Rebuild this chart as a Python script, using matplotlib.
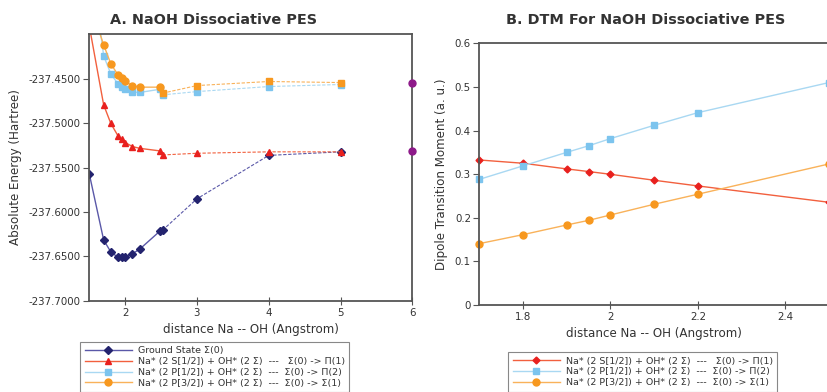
import matplotlib
matplotlib.use("Agg")
import matplotlib.pyplot as plt
from matplotlib.ticker import FuncFormatter

# ---- data: panel A (absolute energy, Hartree) ----
dist_short = [1.5, 1.7, 1.8, 1.9, 1.95, 2.0, 2.1, 2.2, 2.49]
dist_long = [2.52, 3, 4, 5]

ground_short = [-237.557, -237.6315, -237.645, -237.651, -237.651, -237.651,
                -237.647, -237.642, -237.621]
ground_long = [-237.6205, -237.585, -237.536, -237.532]

s12_short = [-237.390, -237.479, -237.500, -237.514, -237.518, -237.5215,
             -237.526, -237.528, -237.531]
s12_long = [-237.5355, -237.5336, -237.532, -237.532]

p12_short = [-237.300, -237.4236, -237.444, -237.4553, -237.4583, -237.4613,
             -237.4647, -237.465, -237.4613]
p12_long = [-237.4677, -237.464, -237.4583, -237.456]

p32_short = [-237.363, -237.4112, -237.4327, -237.4451, -237.4489, -237.4526,
             -237.4572, -237.459, -237.459]
p32_long = [-237.4658, -237.4572, -237.4526, -237.4538]

limit_dist = [6, 6]
limit_energy = [-237.4545, -237.5313]

# ---- data: panel B (dipole transition moment, a.u.) ----
dtm_dist = [1.7, 1.8, 1.9, 1.95, 2.0, 2.1, 2.2, 2.5]
dtm_s12 = [0.3325, 0.325, 0.312, 0.306, 0.2997, 0.286, 0.273, 0.2355]
dtm_p12 = [0.288, 0.319, 0.350, 0.365, 0.3815, 0.412, 0.441, 0.510]
dtm_p32 = [0.1407, 0.1613, 0.1835, 0.194, 0.2064, 0.231, 0.254, 0.3234]

labels = [
    "Ground State \u03a3(0)",
    "Na* (2 S[1/2]) + OH* (2 \u03a3)  ---   \u03a3(0) -> \u03a0(1)",
    "Na* (2 P[1/2]) + OH* (2 \u03a3)  ---  \u03a3(0) -> \u03a0(2)",
    "Na* (2 P[3/2]) + OH* (2 \u03a3)  ---  \u03a3(0) -> \u03a3(1)",
]

# (line colour, marker colour, marker)
navy = ("#5a58a8", "#23236e", "D")
red = ("#f2603e", "#e8201e", "^")
blue = ("#a9d8f2", "#7cc4ee", "s")
orange = ("#f9b25a", "#f7981f", "o")

text_col = "#333333"
plt.rcParams["font.family"] = "DejaVu Sans"
plt.rcParams["text.color"] = text_col
plt.rcParams["axes.labelcolor"] = text_col
plt.rcParams["xtick.color"] = "#555555"
plt.rcParams["ytick.color"] = "#555555"
plt.rcParams["xtick.labelcolor"] = text_col
plt.rcParams["ytick.labelcolor"] = text_col

fig = plt.figure(figsize=(8.27, 3.92), dpi=100)
W, H = 827.0, 392.0

ax1 = fig.add_axes([89.3 / W, 1 - 300.7 / H, (412.3 - 89.3) / W, (300.7 - 34) / H])
ax2 = fig.add_axes([479.3 / W, 1 - 305 / H, (829 - 479.3) / W, (305 - 43.3) / H])


def style_axes(ax):
    for sp in ax.spines.values():
        sp.set_color("#555555")
        sp.set_linewidth(1.3)
    ax.tick_params(axis="y", direction="out", length=4, width=0.8, labelsize=7.4, pad=2)
    ax.tick_params(axis="x", direction="inout", length=6, width=0.8, labelsize=7.4, pad=2)


def series(ax, x, y, style, ls="-", lw=1.0, ms=4.5, marker=None):
    lc, mc, mk = style
    return ax.plot(x, y, linestyle=ls, color=lc, linewidth=lw,
                   marker=marker or mk, markersize=ms,
                   markerfacecolor=mc, markeredgecolor=mc)[0]


dash = (0, (3, 1.5))

h_g = series(ax1, dist_short, ground_short, navy, ms=4)
series(ax1, dist_long, ground_long, navy, ls=dash, lw=0.8, ms=4)
h_s = series(ax1, dist_short, s12_short, red, ms=5)
series(ax1, dist_long, s12_long, red, ls=dash, lw=0.8, ms=5)
h_p1 = series(ax1, dist_short, p12_short, blue, ms=4.5)
series(ax1, dist_long, p12_long, blue, ls=dash, lw=0.8, ms=4.5)
h_p3 = series(ax1, dist_short, p32_short, orange, ms=5)
series(ax1, dist_long, p32_long, orange, ls=dash, lw=0.8, ms=5, marker="s")
ax1.plot(limit_dist, limit_energy, linestyle="none", marker="o", markersize=5,
         color="#8e1a8a", clip_on=False, zorder=5)

ax1.set_xlim(1.5, 6)
ax1.set_ylim(-237.70, -237.399)
ax1.set_xticks([2, 3, 4, 5, 6])
ax1.set_yticks([-237.70, -237.65, -237.60, -237.55, -237.50, -237.45])
ax1.yaxis.set_major_formatter(FuncFormatter(lambda v, p: f"{v:.4f}"))
ax1.xaxis.set_major_formatter(FuncFormatter(lambda v, p: f"{v:g}"))
style_axes(ax1)
ax1.set_xlabel("distance Na -- OH (Angstrom)", fontsize=8.6)
ax1.set_ylabel("Absolute Energy (Hartree)", fontsize=8.6, labelpad=5)
fig.text(213 / W, 1 - 20 / H, "A. NaOH Dissociative PES", ha="center",
         va="center", fontsize=10.4, fontweight="bold")

leg1 = fig.legend([h_g, h_s, h_p1, h_p3], labels, loc="upper left",
                  bbox_to_anchor=(80 / W, 1 - 341.7 / H), borderaxespad=0,
                  fontsize=6.8, fancybox=False, edgecolor="#888888",
                  framealpha=1, labelspacing=0.18, handlelength=5,
                  borderpad=0.5, handletextpad=0.6)
leg1.get_frame().set_linewidth(0.8)

g2 = [series(ax2, dtm_dist, dtm_s12, (red[0], red[1], "D"), ms=3.5),
      series(ax2, dtm_dist, dtm_p12, blue, ms=4.5),
      series(ax2, dtm_dist, dtm_p32, orange, ms=5)]
for ln in g2:
    ln.set_clip_on(False)

ax2.set_xlim(1.7, 2.5)
ax2.set_ylim(0, 0.6)
ax2.set_xticks([1.8, 2.0, 2.2, 2.4])
ax2.set_yticks([0, 0.1, 0.2, 0.3, 0.4, 0.5, 0.6])
ax2.xaxis.set_major_formatter(FuncFormatter(lambda v, p: f"{v:g}"))
ax2.yaxis.set_major_formatter(FuncFormatter(lambda v, p: f"{v:g}"))
style_axes(ax2)
ax2.spines["right"].set_visible(False)
ax2.set_xlabel("distance Na -- OH (Angstrom)", fontsize=8.6)
ax2.set_ylabel("Dipole Transition Moment (a. u.)", fontsize=8.6, labelpad=5)
fig.text(646 / W, 1 - 20 / H, "B. DTM For NaOH Dissociative PES", ha="center",
         va="center", fontsize=10.4, fontweight="bold")

leg2 = fig.legend(g2, labels[1:], loc="upper left",
                  bbox_to_anchor=(508 / W, 1 - 352 / H), borderaxespad=0,
                  fontsize=6.8, fancybox=False, edgecolor="#888888",
                  framealpha=1, labelspacing=0.18, handlelength=5,
                  borderpad=0.5, handletextpad=0.6)
leg2.get_frame().set_linewidth(0.8)

fig.savefig("out.png", dpi=100)
